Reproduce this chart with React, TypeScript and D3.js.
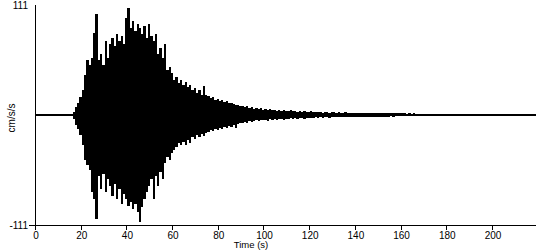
import React from "react";
import * as d3 from "d3";

// Peak (positive) and trough (negative) acceleration per second, cm/s/s, t = 0..218 s
const upper: number[] = [
  0.6, 0.5, 0.6, 0.6, 0.5, 0.6, 0.6, 0.5, 0.6, 0.6, 0.5, 0.6, 0.6, 0.5, 0.7,
  1.5, 3, 8, 12, 18,
  25, 40, 55, 50, 58, 83, 102, 55, 62, 50,
  75, 58, 72, 78, 70, 82, 75, 80, 72, 98,
  108, 88, 95, 85, 92, 88, 82, 90, 78, 92,
  80, 75, 82, 62, 68, 58, 72, 45, 48, 42,
  35, 38, 32, 35, 30, 33, 28, 30, 25, 27,
  22, 25, 20, 29, 20, 19, 17, 18, 15, 16,
  14, 15, 13, 14, 12, 12, 11, 10, 10, 9,
  9, 8, 9, 7, 8, 6, 7, 6, 7, 5,
  6, 5, 6, 5, 5, 4, 5, 4, 5, 4,
  4, 5, 4, 4, 3, 4, 3, 4, 3, 3,
  4, 3, 3, 3.5, 3, 2.5, 3, 3, 2.5, 3,
  3, 2.5, 3, 2.5, 2.5, 3, 2.5, 2, 2.5, 2.5,
  2.5, 2, 2.5, 2, 2.5, 2, 2, 2.5, 2, 2,
  2, 2, 1.8, 2, 1.8, 1.8, 2, 1.6, 1.8, 1.6,
  1.6, 1.8, 1.5, 1.6, 1.5, 1.8, 1.5, 1.4, 1.5, 1.4,
  1.4, 1.5, 1.3, 1.4, 1.3, 1.5, 1.3, 1.2, 1.3, 1.2,
  1.2, 1.3, 1.2, 1.1, 1.2, 1.1, 1.2, 1.1, 1.1, 1.2,
  1.1, 1, 1.1, 1, 1.1, 1, 1, 1.1, 1, 1,
  1, 1, 0.9, 1, 0.9, 1, 0.9, 0.9, 1, 0.9,
  0.9, 0.9, 0.8, 0.9, 0.8, 0.9, 0.8, 0.8, 0.8,
];

const lower: number[] = [
  -0.6, -0.5, -0.6, -0.6, -0.5, -0.6, -0.6, -0.5, -0.6, -0.6, -0.5, -0.6, -0.6, -0.5, -0.7,
  -1.5, -4, -10, -14, -20,
  -30, -45, -50, -55, -78, -85, -105, -62, -75, -60,
  -78, -65, -72, -82, -70, -85, -75, -90, -80, -85,
  -92, -88, -95, -90, -98, -108, -93, -85, -78, -72,
  -65, -85, -62, -72, -58, -65, -48, -42, -45, -38,
  -35, -32, -28, -30, -27, -30, -25, -28, -22, -24,
  -20, -22, -19, -21, -18, -17, -15, -16, -14, -15,
  -13, -14, -12, -13, -11, -12, -10, -13, -9, -8,
  -8, -7, -8, -6, -7, -6, -5, -6, -5, -5,
  -5, -6, -4, -5, -4, -5, -4, -4, -5, -4,
  -4, -3, -4, -3, -4, -3, -3, -4, -3, -3,
  -3, -3, -2.5, -3, -2.5, -3, -2.5, -2.5, -3, -2.5,
  -2.5, -2.5, -2, -2.5, -2, -2.5, -2, -2, -2.5, -2,
  -2, -2, -2, -1.8, -2, -1.8, -2, -1.8, -1.8, -1.6,
  -1.8, -1.6, -1.8, -1.6, -1.6, -1.5, -1.6, -1.5, -1.5, -1.4,
  -1.5, -1.4, -1.4, -1.3, -1.4, -1.3, -1.3, -1.2, -1.3, -1.2,
  -1.2, -1.2, -1.1, -1.2, -1.1, -1.2, -1.1, -1, -1.1, -1,
  -1, -1.1, -1, -1, -1, -0.9, -1, -0.9, -1, -0.9,
  -0.9, -0.9, -0.9, -0.8, -0.9, -0.8, -0.9, -0.8, -0.8, -0.8,
  -0.8, -0.8, -0.8, -0.8, -0.8, -0.8, -0.8, -0.8, -0.8, -0.8,
  -0.8, -0.8, -0.8, -0.8, -0.8, -0.8, -0.8, -0.8, -0.8,
];

const xTicks = [0, 20, 40, 60, 80, 100, 120, 140, 160, 180, 200];
const yTickLabels = ["111", "-111"];
const yLimits = [-111, 111];
const xLimits = [0, 219];

const W = 550;
const H = 250;
const FONT = "'Liberation Sans', Arial, sans-serif";

export default function App() {
  const x = d3.scaleLinear().domain(xLimits).range([36, 536.4]);
  const y = d3.scaleLinear().domain(yLimits).range([225, 5]);

  // index list with a final repeat so the last step reaches the record's end
  const idx = upper.map((_, i) => i);
  const idxEnd = [...idx, idx.length - 1];
  const area = d3
    .area<number>()
    .x((i, k) => (k === idxEnd.length - 1 ? x(xLimits[1]) : x(i)))
    .y0((i) => y(lower[i]))
    .y1((i) => y(upper[i]))
    .curve(d3.curveStepAfter);

  return (
    <svg
      width={W}
      height={H}
      style={{ position: "absolute", left: 0, top: 0, background: "#fff" }}
      fontFamily={FONT}
    >
      <rect width={W} height={H} fill="#fff" />
      <path d={area(idxEnd) || ""} fill="#000" stroke="none" shapeRendering="crispEdges" />
      <line
        x1={x(xLimits[0])}
        x2={x(xLimits[1])}
        y1={y(0)}
        y2={y(0)}
        stroke="#000"
        strokeWidth={2}
        shapeRendering="crispEdges"
      />
      {/* axes */}
      <line x1={35.5} x2={35.5} y1={5} y2={225} stroke="#000" shapeRendering="crispEdges" />
      <line x1={29} x2={536} y1={225.5} y2={225.5} stroke="#000" shapeRendering="crispEdges" />
      {xTicks.map((t) => (
        <g key={t}>
          <line
            x1={Math.round(x(t)) - 0.5}
            x2={Math.round(x(t)) - 0.5}
            y1={225}
            y2={230}
            stroke="#000"
            shapeRendering="crispEdges"
          />
          <text x={x(t)} y={238.5} fontSize={10} textAnchor="middle" fill="#000">
            {t}
          </text>
        </g>
      ))}
      <text x={28} y={9} fontSize={10} textAnchor="end" fill="#000">
        {yTickLabels[0]}
      </text>
      <text x={28} y={229} fontSize={10} textAnchor="end" fill="#000">
        {yTickLabels[1]}
      </text>
      <text x={251} y={248} fontSize={9.5} textAnchor="middle" fill="#000">
        Time (s)
      </text>
      <text
        transform={`translate(15,118) rotate(-90)`}
        fontSize={10}
        textAnchor="middle"
        fill="#000"
      >
        cm/s/s
      </text>
    </svg>
  );
}
